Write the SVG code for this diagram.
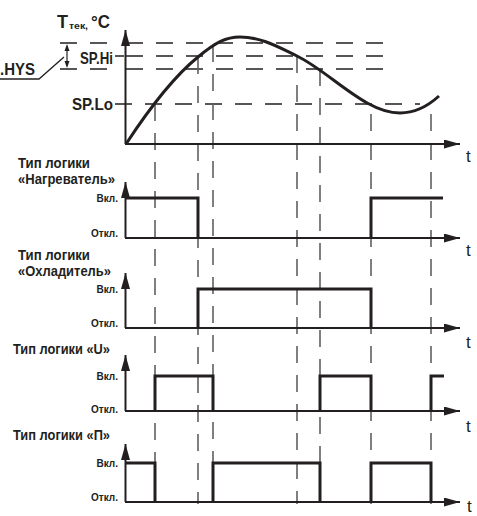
<svg xmlns="http://www.w3.org/2000/svg" width="477" height="516" viewBox="0 0 477 516">
<style>
.ax{stroke:#231f20;stroke-width:2;fill:none}
.sig{stroke:#231f20;stroke-width:3;fill:none;stroke-linejoin:miter}
.hd{stroke:#231f20;stroke-width:1.3;stroke-dasharray:17 13;fill:none}
.vd{stroke:#5f6062;stroke-width:1.6;stroke-dasharray:17 12;fill:none}
.lb{font-family:"Liberation Sans",Arial,sans-serif;font-weight:bold;fill:#231f20}
.tl{font-family:"Liberation Sans",Arial,sans-serif;font-weight:bold;font-size:14px;fill:#231f20}
.st{font-family:"Liberation Sans",Arial,sans-serif;font-weight:bold;font-size:10px;fill:#231f20;text-anchor:end}
.t{font-family:"Liberation Sans",Arial,sans-serif;font-size:17px;fill:#231f20}
</style>
<defs>
<marker id="ah" markerUnits="userSpaceOnUse" markerWidth="17" markerHeight="10" refX="16" refY="4.5" orient="auto">
<path d="M0,0 L16,4.5 L0,9 z" fill="#231f20"/>
</marker>
</defs>
<rect width="477" height="516" fill="#fff"/>

<g id="guides">
<path class="hd" d="M60,43 H118 M126,43 H384"/>
<path class="hd" d="M115,56 H124 M126,56 H384"/>
<path class="hd" d="M60,69 H118 M126,69 H384"/>
<path class="hd" d="M115,104 H420"/>
<path class="vd" d="M155,104 V504"/>
<path class="vd" d="M198,57 V504"/>
<path class="vd" d="M213,45 V504"/>
<path class="vd" d="M297,56 V504"/>
<path class="vd" d="M320,69 V504"/>
<path class="vd" d="M371,114 V504"/>
<path class="vd" d="M431,114 V504"/>
</g>

<g id="chart-temp">
<path class="ax" d="M125.5,144 V30" marker-end="url(#ah)"/>
<path class="ax" d="M125,144 H460" marker-end="url(#ah)"/>
<path class="sig" d="M126,144 C145,115 172,78 198,57 C216,42 226,37 240,37 C262,37 280,48 297,56 C330,72 365,113 400,113 C415,113 428,106 439,96"/>
<text class="lb" x="57" y="28" font-size="18" textLength="11" lengthAdjust="spacingAndGlyphs">T</text>
<text class="lb" x="69" y="29" font-size="9" textLength="19" lengthAdjust="spacingAndGlyphs">тек,</text>
<text class="lb" x="91" y="28" font-size="18" textLength="19" lengthAdjust="spacingAndGlyphs">°C</text>
<text class="lb" x="80" y="64" font-size="17" textLength="33" lengthAdjust="spacingAndGlyphs">SP.Hi</text>
<text class="lb" x="72" y="110" font-size="17" textLength="41" lengthAdjust="spacingAndGlyphs">SP.Lo</text>
<text class="lb" x="0" y="75" font-size="17" textLength="35" lengthAdjust="spacingAndGlyphs">.HYS</text>
<path d="M0,79 H39 L64,57" stroke="#231f20" stroke-width="1.3" fill="none"/>
<path d="M67,46 V66" stroke="#231f20" stroke-width="1.2"/>
<path d="M67,44 L64.5,51 L69.5,51 z M67,68 L64.5,61 L69.5,61 z" fill="#231f20"/>
<text class="t" x="466" y="162">t</text>
</g>

<g id="chart-heater">
<path class="ax" d="M125.5,238 V182" marker-end="url(#ah)"/>
<path class="ax" d="M125,238 H460" marker-end="url(#ah)"/>
<path class="sig" d="M126,198 H198 V238 M371,238 V198 H443"/>
<text class="tl" x="18" y="168" textLength="72" lengthAdjust="spacingAndGlyphs">Тип логики</text>
<text class="tl" x="18" y="184" textLength="97" lengthAdjust="spacingAndGlyphs">«Нагреватель»</text>
<text class="st" x="118" y="202">Вкл.</text>
<text class="st" x="118" y="237">Откл.</text>
<text class="t" x="466" y="256">t</text>
</g>

<g id="chart-cooler">
<path class="ax" d="M125.5,328 V273" marker-end="url(#ah)"/>
<path class="ax" d="M125,328 H460" marker-end="url(#ah)"/>
<path class="sig" d="M198,328 V289 H371 V328"/>
<text class="tl" x="18" y="260" textLength="72" lengthAdjust="spacingAndGlyphs">Тип логики</text>
<text class="tl" x="18" y="276" textLength="93" lengthAdjust="spacingAndGlyphs">«Охладитель»</text>
<text class="st" x="118" y="293">Вкл.</text>
<text class="st" x="118" y="327">Откл.</text>
<text class="t" x="466" y="348">t</text>
</g>

<g id="chart-u">
<path class="ax" d="M125.5,411 V355" marker-end="url(#ah)"/>
<path class="ax" d="M125,411 H460" marker-end="url(#ah)"/>
<path class="sig" d="M155,411 V376 H213 V411 M320,411 V376 H371 V411 M431,411 V376 H444"/>
<text class="tl" x="13" y="354" textLength="97" lengthAdjust="spacingAndGlyphs">Тип логики «U»</text>
<text class="st" x="118" y="380">Вкл.</text>
<text class="st" x="118" y="413">Откл.</text>
<text class="t" x="466" y="432">t</text>
</g>

<g id="chart-p">
<path class="ax" d="M125.5,502 V444" marker-end="url(#ah)"/>
<path class="ax" d="M125,502 H460" marker-end="url(#ah)"/>
<path class="sig" d="M126,463 H155 V502 M213,502 V463 H320 V502 M371,502 V463 H431 V502"/>
<text class="tl" x="13" y="440" textLength="97" lengthAdjust="spacingAndGlyphs">Тип логики «П»</text>
<text class="st" x="118" y="467">Вкл.</text>
<text class="st" x="118" y="501">Откл.</text>
<text class="t" x="467" y="512" font-size="12">t</text>
</g>
</svg>
